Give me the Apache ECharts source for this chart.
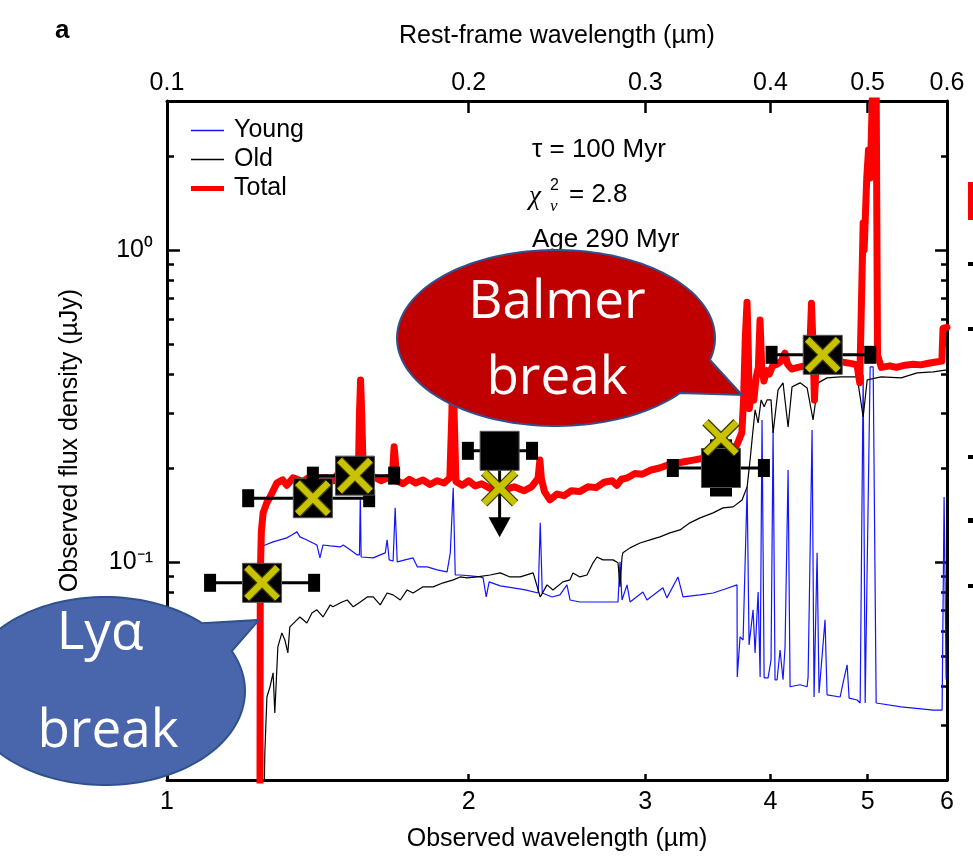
<!DOCTYPE html>
<html>
<head>
<meta charset="utf-8">
<script src="https://cdn.jsdelivr.net/npm/echarts@6/dist/echarts.min.js"></script>
<style>
  html, body { margin: 0; padding: 0; background: #fff; }
  #chart { width: 973px; height: 858px; }
</style>
</head>
<body>
<div id="chart"></div>
<script>
// ---- Axis ranges and tick values ----
const waveMin = 1, waveMax = 6;          // observed wavelength (µm)
const restMin = 0.1, restMax = 0.6;      // rest-frame wavelength (µm)
const fluxMin = 0.02, fluxMax = 3;       // observed flux density (µJy)
const obsLabelValues = [1, 2, 3, 4, 5, 6];
const obsTickValues = [2, 3, 4, 5];
const restLabelValues = [0.1, 0.2, 0.3, 0.4, 0.5, 0.6];
const restTickValues = [0.2, 0.3, 0.4, 0.5];
const fluxMajorTicks = [0.1, 1];
const fluxMinorTicks = [0.03, 0.04, 0.05, 0.06, 0.07, 0.08, 0.09,
                        0.2, 0.3, 0.4, 0.5, 0.6, 0.7, 0.8, 0.9, 2];

// ---- Model spectra: [observed wavelength (µm), flux (µJy)] ----
const youngSpectrum = [
  [1.240,0.015],[1.246,0.1125],[1.276,0.1159],[1.296,0.1176],[1.317,0.1194],[1.333,0.1221],
  [1.348,0.1248],[1.357,0.1203],[1.379,0.1176],[1.398,0.1150],[1.411,0.1133],[1.421,0.1030],
  [1.431,0.1133],[1.455,0.1125],[1.489,0.1117],[1.499,0.1133],[1.523,0.1093],[1.548,0.1053],
  [1.556,0.1053],[1.559,0.1615],[1.562,0.1037],[1.569,0.1037],[1.606,0.1030],[1.632,0.1053],
  [1.651,0.1069],[1.658,0.1176],[1.666,0.1015],[1.681,0.1007],[1.689,0.1490],[1.697,0.1000],
  [1.728,0.1015],[1.760,0.1030],[1.777,0.0964],[1.818,0.0964],[1.860,0.0943],[1.903,0.0929],
  [1.917,0.1069],[1.930,0.1727],[1.939,0.0908],[1.961,0.0908],[2.007,0.0902],[2.053,0.0895],
  [2.067,0.0889],[2.082,0.0772],[2.096,0.0863],[2.150,0.0838],[2.215,0.0826],[2.277,0.0813],
  [2.346,0.0795],[2.357,0.1334],[2.368,0.0795],[2.422,0.0772],[2.466,0.0784],[2.506,0.0844],
  [2.524,0.0755],[2.582,0.0744],[2.704,0.0744],[2.818,0.0744],[2.831,0.1000],[2.844,0.0755],
  [2.877,0.0844],[2.897,0.0744],[2.984,0.0801],[3.012,0.0755],[3.124,0.0826],[3.153,0.0767],
  [3.234,0.0895],[3.272,0.0772],[3.403,0.0784],[3.506,0.0795],[3.604,0.0819],[3.704,0.0844],
  [3.706,0.0428],[3.730,0.0575],[3.756,0.0562],[3.773,0.0562],[3.791,0.1740],[3.808,0.0542],
  [3.843,0.0702],[3.861,0.0511],[3.888,0.0801],[3.906,0.0428],[3.923,0.2851],[3.942,0.0425],
  [3.978,0.0425],[4.005,0.0485],[4.024,0.2649],[4.042,0.0419],[4.061,0.0419],[4.089,0.0522],
  [4.117,0.0419],[4.136,0.0534],[4.165,0.1971],[4.184,0.0398],[4.281,0.0404],[4.351,0.0398],
  [4.361,0.0428],[4.401,0.2649],[4.421,0.0369],[4.452,0.1069],[4.472,0.0380],[4.534,0.0652],
  [4.555,0.0375],[4.694,0.0369],[4.726,0.0410],[4.770,0.0468],[4.792,0.0366],[4.881,0.0361],
  [4.915,0.0353],[4.949,0.3976],[4.972,0.0353],[5.029,0.4217],[5.064,0.4217],[5.099,0.0353],
  [5.158,0.0351],[5.400,0.0343],[5.654,0.0338],[5.812,0.0335],[5.933,0.0335],[5.960,0.1615],
  [5.988,0.0420]
];

const oldSpectrum = [
  [1.249,0.015],[1.252,0.0244],[1.258,0.0369],[1.267,0.0398],[1.276,0.0441],[1.281,0.0328],
  [1.290,0.0534],[1.302,0.0592],[1.311,0.0562],[1.320,0.0511],[1.326,0.0619],[1.348,0.0652],
  [1.357,0.0666],[1.379,0.0637],[1.395,0.0686],[1.411,0.0702],[1.431,0.0666],[1.455,0.0728],
  [1.464,0.0718],[1.495,0.0744],[1.513,0.0755],[1.534,0.0718],[1.559,0.0744],[1.584,0.0772],
  [1.606,0.0772],[1.632,0.0728],[1.658,0.0795],[1.681,0.0784],[1.709,0.0755],[1.736,0.0813],
  [1.760,0.0795],[1.801,0.0832],[1.843,0.0832],[1.886,0.0857],[1.930,0.0876],[1.961,0.0895],
  [1.993,0.0889],[2.039,0.0895],[2.101,0.0908],[2.150,0.0922],[2.199,0.0895],[2.251,0.0895],
  [2.319,0.0922],[2.357,0.0772],[2.394,0.0844],[2.427,0.0813],[2.483,0.0863],[2.524,0.0876],
  [2.541,0.0922],[2.582,0.0895],[2.624,0.0908],[2.661,0.0993],[2.685,0.1037],[2.722,0.1015],
  [2.786,0.1015],[2.818,0.0993],[2.831,0.0832],[2.844,0.1037],[2.850,0.1069],[2.897,0.1109],
  [2.964,0.1150],[3.033,0.1176],[3.103,0.1203],[3.175,0.1239],[3.249,0.1266],[3.324,0.1334],
  [3.403,0.1384],[3.506,0.1436],[3.587,0.1490],[3.671,0.1501],[3.747,0.1580],[3.791,0.1740],
  [3.817,0.2123],[3.834,0.2460],[3.861,0.3070],[3.888,0.2789],[3.915,0.3306],[3.942,0.3140],
  [3.969,0.3306],[4.005,0.3306],[4.024,0.2591],[4.070,0.3558],[4.117,0.3748],[4.165,0.2708],
  [4.203,0.3638],[4.281,0.3748],[4.351,0.3611],[4.411,0.2851],[4.462,0.3748],[4.555,0.3889],
  [4.694,0.3917],[4.881,0.3917],[4.949,0.2916],[4.995,0.3831],[5.158,0.3917],[5.400,0.3889],
  [5.602,0.4035],[5.812,0.4065],[6.000,0.4125]
];

const totalSpectrum = [
  [1.238,0.015],[1.239,0.090],[1.242,0.125],[1.247,0.1435],[1.258,0.155],[1.267,0.1615],
  [1.287,0.1788],[1.304,0.1832],[1.317,0.176],[1.336,0.186],[1.366,0.181],[1.398,0.190],
  [1.420,0.185],[1.444,0.186],[1.465,0.182],[1.478,0.190],[1.500,0.185],[1.520,0.190],
  [1.540,0.186],[1.552,0.189],[1.556,0.300],[1.560,0.383],[1.564,0.300],[1.570,0.186],
  [1.590,0.181],[1.610,0.187],[1.635,0.182],[1.660,0.186],[1.678,0.183],[1.682,0.215],
  [1.685,0.234],[1.689,0.215],[1.695,0.182],[1.720,0.178],[1.745,0.184],[1.770,0.179],
  [1.800,0.183],[1.830,0.177],[1.860,0.182],[1.890,0.179],[1.915,0.186],[1.924,0.300],
  [1.929,0.450],[1.934,0.300],[1.942,0.181],[1.970,0.176],[2.000,0.182],[2.030,0.175],
  [2.060,0.178],[2.100,0.172],[2.140,0.177],[2.180,0.171],[2.220,0.174],[2.270,0.169],
  [2.310,0.174],[2.345,0.185],[2.355,0.212],[2.363,0.185],[2.380,0.168],[2.410,0.158],
  [2.450,0.165],[2.490,0.163],[2.530,0.169],[2.580,0.168],[2.630,0.174],[2.680,0.173],
  [2.730,0.180],[2.780,0.182],[2.810,0.176],[2.840,0.184],[2.880,0.186],[2.930,0.192],
  [2.980,0.191],[3.040,0.197],[3.100,0.200],[3.160,0.2045],[3.220,0.207],[3.280,0.2094],
  [3.350,0.212],[3.430,0.215],[3.510,0.218],[3.580,0.222],[3.640,0.230],[3.700,0.236],
  [3.745,0.259],[3.760,0.330],[3.775,0.520],[3.790,0.680],[3.800,0.500],[3.810,0.310],
  [3.830,0.355],[3.850,0.330],[3.870,0.390],[3.890,0.420],[3.905,0.596],[3.920,0.420],
  [3.940,0.380],[3.965,0.410],[3.990,0.400],[4.020,0.425],[4.060,0.430],[4.100,0.440],
  [4.135,0.467],[4.160,0.430],[4.200,0.415],[4.260,0.420],[4.330,0.425],[4.375,0.450],
  [4.395,0.675],[4.410,0.500],[4.425,0.330],[4.440,0.420],[4.500,0.428],[4.580,0.434],
  [4.660,0.440],[4.740,0.436],[4.820,0.432],[4.880,0.428],[4.910,0.375],[4.935,0.800],
  [4.949,1.220],[4.960,1.000],[4.990,1.700],[5.010,2.090],[5.030,1.700],[5.065,4.000],
  [5.087,6.000],[5.100,3.000],[5.115,0.460],[5.160,0.420],[5.260,0.425],[5.340,0.420],
  [5.450,0.427],[5.550,0.430],[5.650,0.428],[5.750,0.433],[5.850,0.437],[5.930,0.440],
  [5.945,0.560],[6.000,0.565]
];

// ---- Photometry: observed bands and model fluxes ----
const photBand      = ['F125W', 'F140W', 'F160W', 'Ks', 'IRAC 3.6', 'IRAC 4.5'];
const photWave      = [1.244, 1.398, 1.540, 2.147, 3.57, 4.51];
const photWaveLo    = [1.104, 1.205, 1.398, 1.996, 3.196, 4.01];
const photWaveHi    = [1.402, 1.591, 1.685, 2.313, 3.94, 5.03];
const photFlux      = [0.0857, 0.160, 0.189, 0.227, 0.200, 0.461];
const photFluxLo    = [null, null, null, 0.120, 0.1675, null];
const photFluxHi    = [null, null, null, null, 0.239, null];
const photUpperLimit = [0, 0, 0, 1, 0, 0];
const modelFlux     = [0.0857, 0.160, 0.189, 0.1727, 0.250, 0.461];

const FONT = 'Liberation Sans';

const photometryData = photWave.map((w, i) => [
  w, photFlux[i], photWaveLo[i], photWaveHi[i],
  photFluxLo[i] == null ? '-' : photFluxLo[i],
  photFluxHi[i] == null ? '-' : photFluxHi[i],
  photUpperLimit[i]
]);
const modelData = photWave.map((w, i) => [w, modelFlux[i]]);

// Black square with horizontal band width, optional vertical bar or upper-limit arrow
function renderPhotometry(params, api) {
  const w = api.value(0), f = api.value(1);
  const c = api.coord([w, f]);
  const lo = api.coord([api.value(2), f]);
  const hi = api.coord([api.value(3), f]);
  const black = { fill: '#000' };
  const g = [];
  g.push({ type: 'line', shape: { x1: lo[0], y1: c[1], x2: hi[0], y2: c[1] },
           style: { stroke: '#000', lineWidth: 3 } });
  g.push({ type: 'rect', shape: { x: lo[0] - 6, y: c[1] - 9, width: 12, height: 18 }, style: black });
  g.push({ type: 'rect', shape: { x: hi[0] - 6, y: c[1] - 9, width: 12, height: 18 }, style: black });
  const fLo = api.value(4), fHi = api.value(5), isLimit = api.value(6);
  if (isLimit) {
    const tip = api.coord([w, fLo]);
    g.push({ type: 'line', shape: { x1: c[0], y1: c[1], x2: c[0], y2: tip[1] - 18 },
             style: { stroke: '#000', lineWidth: 3 } });
    g.push({ type: 'polygon',
             shape: { points: [[c[0] - 11, tip[1] - 20], [c[0] + 11, tip[1] - 20], [c[0], tip[1]]] },
             style: black });
  } else if (!isNaN(fLo) && !isNaN(fHi)) {
    const a = api.coord([w, fLo]), b = api.coord([w, fHi]);
    g.push({ type: 'line', shape: { x1: c[0], y1: a[1], x2: c[0], y2: b[1] },
             style: { stroke: '#000', lineWidth: 3 } });
    g.push({ type: 'rect', shape: { x: c[0] - 11, y: a[1] - 4.5, width: 22, height: 9 }, style: black });
    g.push({ type: 'rect', shape: { x: c[0] - 11, y: b[1] - 4.5, width: 22, height: 9 }, style: black });
  }
  g.push({ type: 'rect', shape: { x: c[0] - 19.5, y: c[1] - 19.5, width: 39, height: 39 },
           style: { fill: '#000', stroke: '#555', lineWidth: 1 } });
  return { type: 'group', children: g };
}

// Yellow cross for the model photometry
function renderModel(params, api) {
  const c = api.coord([api.value(0), api.value(1)]);
  const r = 15.5;
  const cross = (style) => [
    { type: 'line', shape: { x1: c[0] - r, y1: c[1] - r, x2: c[0] + r, y2: c[1] + r }, style },
    { type: 'line', shape: { x1: c[0] - r, y1: c[1] + r, x2: c[0] + r, y2: c[1] - r }, style }
  ];
  return { type: 'group', children: [
    ...cross({ stroke: '#3a3a00', lineWidth: 9 }),
    ...cross({ stroke: '#C9C200', lineWidth: 6.5 })
  ] };
}

// Speech-bubble outline: elliptical body plus a pointed tail
function bubblePoints(cx, cy, rx, ry, fromDeg, toDeg, tip) {
  const pts = [];
  const n = 140;
  for (let k = 0; k <= n; k++) {
    const t = (fromDeg + (toDeg - fromDeg) * k / n) * Math.PI / 180;
    pts.push([cx + rx * Math.cos(t), cy + ry * Math.sin(t)]);
  }
  pts.push(tip);
  return pts;
}

function yAxisDef(position, ticks, tickLen, withLabels, withLine) {
  return {
    type: 'log', logBase: 10, min: fluxMin, max: fluxMax, position,
    name: withLabels ? 'Observed flux density (µJy)' : '',
    nameLocation: 'middle', nameGap: 84, nameRotate: 90,
    nameTextStyle: { fontFamily: FONT, fontSize: 25, color: '#000' },
    axisLine: { show: withLine, onZero: false, lineStyle: { color: '#000', width: 3 } },
    axisTick: { show: true, inside: true, length: tickLen, customValues: ticks,
                lineStyle: { color: '#000', width: 2.5 } },
    axisLabel: withLabels ? {
      show: true, customValues: fluxMajorTicks, margin: 14,
      fontFamily: FONT, fontSize: 25, color: '#000',
      formatter: (v) => (v > 0.5 ? '10⁰' : '10⁻¹')
    } : { show: false },
    splitLine: { show: false },
    minorTick: { show: false }
  };
}

const chart = echarts.init(document.getElementById('chart'), null, { renderer: 'canvas' });

const textBase = { fill: '#000', verticalAlign: 'middle', textVerticalAlign: 'middle' };
const bubbleText = { fill: '#fff', align: 'center', textAlign: 'center',
                     verticalAlign: 'middle', textVerticalAlign: 'middle',
                     font: '53px "Open Sans"' };

const option = {
  animation: false,
  backgroundColor: '#fff',
  textStyle: { fontFamily: FONT },
  grid: { left: 167, right: 26, top: 101, bottom: 78, containLabel: false },
  legend: {
    orient: 'vertical', left: 186, top: 113,
    itemWidth: 33, itemHeight: 14, itemGap: 4,
    selectedMode: false,
    textStyle: { fontFamily: FONT, fontSize: 25, color: '#000', padding: [0, 0, 0, 5] },
    data: [
      { name: 'Young', icon: 'path://M0 0H33V1.6H0Z' },
      { name: 'Old', icon: 'path://M0 0H33V1.6H0Z' },
      { name: 'Total', icon: 'path://M0 0H33V5H0Z' }
    ]
  },
  xAxis: [
    {
      type: 'log', logBase: 10, min: waveMin, max: waveMax, position: 'bottom',
      name: 'Observed wavelength (µm)', nameLocation: 'middle', nameGap: 47,
      nameTextStyle: { fontFamily: FONT, fontSize: 25, color: '#000' },
      axisLine: { show: true, onZero: false, lineStyle: { color: '#000', width: 3 } },
      axisTick: { show: true, inside: true, length: 6, customValues: obsTickValues,
                  lineStyle: { color: '#000', width: 2.5 } },
      axisLabel: { show: true, customValues: obsLabelValues, margin: 10,
                   fontFamily: FONT, fontSize: 25, color: '#000',
                   formatter: (v) => String(Math.round(v)) },
      splitLine: { show: false }, minorTick: { show: false }
    },
    {
      type: 'log', logBase: 10, min: restMin, max: restMax, position: 'top',
      name: 'Rest-frame wavelength (µm)', nameLocation: 'middle', nameGap: 52,
      nameTextStyle: { fontFamily: FONT, fontSize: 25, color: '#000' },
      axisLine: { show: true, onZero: false, lineStyle: { color: '#000', width: 3 } },
      axisTick: { show: true, inside: true, length: 12, customValues: restTickValues,
                  lineStyle: { color: '#000', width: 2.5 } },
      axisLabel: { show: true, customValues: restLabelValues, margin: 5,
                   fontFamily: FONT, fontSize: 25, color: '#000',
                   formatter: (v) => (+v).toFixed(1) },
      splitLine: { show: false }, minorTick: { show: false }
    }
  ],
  yAxis: [
    yAxisDef('left', fluxMajorTicks, 13, true, true),
    yAxisDef('left', fluxMinorTicks, 7, false, false),
    yAxisDef('right', fluxMajorTicks, 12, false, true),
    yAxisDef('right', fluxMinorTicks, 6, false, false)
  ],
  series: [
    {
      name: 'Young', type: 'line', xAxisIndex: 0, yAxisIndex: 0,
      data: youngSpectrum, showSymbol: false, symbol: 'none', clip: true, z: 2,
      color: '#1414ff',
      lineStyle: { color: '#1414ff', width: 1.2 }
    },
    {
      name: 'Old', type: 'line', xAxisIndex: 0, yAxisIndex: 0,
      data: oldSpectrum, showSymbol: false, symbol: 'none', clip: true, z: 3,
      color: '#000',
      lineStyle: { color: '#000', width: 1.2 }
    },
    {
      name: 'Total', type: 'line', xAxisIndex: 0, yAxisIndex: 0,
      data: totalSpectrum, showSymbol: false, symbol: 'none', clip: true, z: 4,
      color: '#ff0000',
      lineStyle: { color: '#ff0000', width: 7, join: 'round', cap: 'round' }
    },
    {
      name: 'Observed', type: 'custom', xAxisIndex: 0, yAxisIndex: 0, z: 5,
      data: photometryData, encode: { x: 0, y: 1 },
      renderItem: renderPhotometry
    },
    {
      name: 'Model photometry', type: 'custom', xAxisIndex: 0, yAxisIndex: 0, z: 6,
      data: modelData, encode: { x: 0, y: 1 },
      renderItem: renderModel
    }
  ],
  graphic: [
    { type: 'text', x: 55, y: 31, z: 100,
      style: Object.assign({ text: 'a', font: 'bold 26px "Liberation Sans"' }, textBase) },
    { type: 'text', x: 532, y: 150, z: 100,
      style: Object.assign({ text: 'τ = 100 Myr', font: '26px "Liberation Sans"' }, textBase) },
    { type: 'text', x: 529, y: 197, z: 100,
      style: Object.assign({ text: 'χ', font: 'italic 27px "Liberation Serif"' }, textBase) },
    { type: 'text', x: 550, y: 186, z: 100,
      style: Object.assign({ text: '2', font: '16px "Liberation Sans"' }, textBase) },
    { type: 'text', x: 550, y: 207, z: 100,
      style: Object.assign({ text: 'ν', font: 'italic 17px "Liberation Serif"' }, textBase) },
    { type: 'text', x: 569, y: 195, z: 100,
      style: Object.assign({ text: '= 2.8', font: '26px "Liberation Sans"' }, textBase) },
    { type: 'text', x: 532, y: 240, z: 100,
      style: Object.assign({ text: 'Age 290 Myr', font: '26px "Liberation Sans"' }, textBase) },
    // Balmer break call-out
    { type: 'polygon', z: 110,
      shape: { points: bubblePoints(556, 338, 159, 88, 14.5, -321.3, [742, 395]) },
      style: { fill: '#C00000', stroke: '#2F528F', lineWidth: 2 } },
    { type: 'text', x: 557, y: 303, z: 111, style: Object.assign({ text: 'Balmer' }, bubbleText) },
    { type: 'text', x: 557, y: 379, z: 111, style: Object.assign({ text: 'break' }, bubbleText) },
    // Lyman-alpha break call-out
    { type: 'polygon', z: 110,
      shape: { points: bubblePoints(105, 691, 140, 94, -25.1, 313.8, [259, 620]) },
      style: { fill: '#4966AC', stroke: '#2F528F', lineWidth: 2 } },
    { type: 'text', x: 100, y: 634, z: 111, style: Object.assign({ text: 'Lyα' }, bubbleText) },
    { type: 'text', x: 108, y: 732, z: 111, style: Object.assign({ text: 'break' }, bubbleText) },
    // edge of the neighbouring panel
    { type: 'rect', z: 100, shape: { x: 968, y: 182, width: 6, height: 38 }, style: { fill: '#ff0000' } },
    { type: 'rect', z: 100, shape: { x: 968, y: 262, width: 6, height: 4 }, style: { fill: '#000' } },
    { type: 'rect', z: 100, shape: { x: 968, y: 327, width: 6, height: 4 }, style: { fill: '#000' } },
    { type: 'rect', z: 100, shape: { x: 968, y: 455, width: 6, height: 4 }, style: { fill: '#000' } },
    { type: 'rect', z: 100, shape: { x: 968, y: 518, width: 6, height: 5 }, style: { fill: '#000' } },
    { type: 'rect', z: 100, shape: { x: 968, y: 584, width: 6, height: 4 }, style: { fill: '#000' } }
  ]
};

chart.setOption(option);
</script>
</body>
</html>
